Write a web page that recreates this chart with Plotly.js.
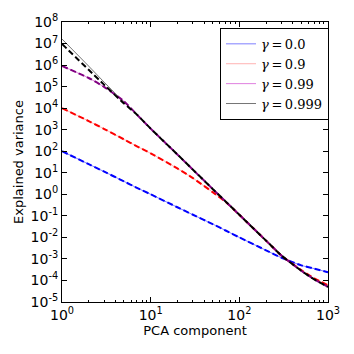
<!DOCTYPE html>
<html>
<head>
<meta charset="utf-8">
<script src="https://cdn.plot.ly/plotly-3.0.1.min.js"></script>
<style>html,body{margin:0;padding:0;background:#fff;}#chart{width:354px;height:354px;}</style>
</head>
<body>
<div id="chart"></div>
<script>
// PCA component index
const components = [1, 2, 3, 5, 7, 10, 20, 30, 50, 70, 100, 200, 300, 500, 700, 1000];
// Explained variance (log10 values converted below)
const logVar_g0_solid    = [2.0, 1.4, 1.05, 0.6, 0.3, 0.0, -0.6, -0.95, -1.38, -1.68, -2.0, -2.6, -2.95, -3.3, -3.45, -3.62];
const logVar_g0_dashed   = [2.0, 1.4, 1.05, 0.6, 0.3, 0.0, -0.6, -0.95, -1.38, -1.68, -2.0, -2.6, -2.95, -3.3, -3.45, -3.62];
const logVar_g09_solid   = [4.0, 3.4, 3.03, 2.55, 2.23, 1.9, 1.2, 0.75, 0.1, -0.35, -0.95, -2.15, -2.85, -3.52, -3.9, -4.22];
const logVar_g09_dashed  = [4.0, 3.4, 3.03, 2.55, 2.23, 1.9, 1.2, 0.75, 0.1, -0.35, -0.95, -2.15, -2.85, -3.52, -3.9, -4.22];
const logVar_g099_solid  = [5.96, 5.4, 4.98, 4.32, 3.7, 3.05, 1.85, 1.14, 0.25, -0.33, -0.95, -2.15, -2.85, -3.55, -3.95, -4.3];
const logVar_g099_dashed = [5.96, 5.4, 4.98, 4.32, 3.7, 3.05, 1.85, 1.14, 0.25, -0.33, -0.95, -2.15, -2.85, -3.55, -3.95, -4.3];
const logVar_g0999_solid = [7.21, 5.95, 5.2, 4.28, 3.71, 3.05, 1.85, 1.14, 0.25, -0.33, -0.95, -2.15, -2.85, -3.55, -3.95, -4.3];
const logVar_g0999_dashed= [6.98, 5.78, 5.08, 4.22, 3.7, 3.05, 1.85, 1.14, 0.25, -0.33, -0.95, -2.15, -2.85, -3.55, -3.95, -4.3];
const seriesNames = ["<i>γ</i>\u2009=\u20090.0", "<i>γ</i>\u2009=\u20090.9", "<i>γ</i>\u2009=\u20090.99", "<i>γ</i>\u2009=\u20090.999"];
// Tick labels
const xTickExp = [0, 1, 2, 3];
const yTickExp = [-5, -4, -3, -2, -1, 0, 1, 2, 3, 4, 5, 6, 7, 8];
const xMinorTicks = [2,3,4,5,6,7,8,9,20,30,40,50,60,70,80,90,200,300,400,500,600,700,800,900];

const toVal = a => a.map(v => Math.pow(10, v));
const solidColors = ["rgba(0,0,255,0.5)", "rgba(255,0,0,0.3)", "rgba(191,0,191,0.5)", "rgba(0,0,0,0.55)"];
const dashColors = ["#0000ff", "#ff0000", "#800080", "#000000"];
const solids = [logVar_g0_solid, logVar_g09_solid, logVar_g099_solid, logVar_g0999_solid];
const dashes = [logVar_g0_dashed, logVar_g09_dashed, logVar_g099_dashed, logVar_g0999_dashed];

const traces = [];
for (let i = 0; i < 4; i++) {
  traces.push({x: components, y: toVal(solids[i]), mode: 'lines', name: seriesNames[i],
    line: {color: solidColors[i], width: 1, shape: 'spline', smoothing: 0.6}, showlegend: true});
}
for (let i = 0; i < 4; i++) {
  traces.push({x: components, y: toVal(dashes[i]), mode: 'lines', name: seriesNames[i] + ' (dashed)',
    line: {color: dashColors[i], width: 2, dash: '6px,3px', shape: 'spline', smoothing: 0.6}, showlegend: false});
}

const tickFont = {family: 'DejaVu Sans', size: 14, color: '#000'};
const titleFont = {family: 'DejaVu Sans', size: 13, color: '#000'};
const layout = {
  width: 354, height: 354,
  margin: {l: 62, r: 26, t: 22, b: 52},
  paper_bgcolor: '#fff', plot_bgcolor: '#fff',
  font: tickFont,
  showlegend: true,
  legend: {x: 0.594, y: 0.979, xanchor: 'left', yanchor: 'top', bordercolor: '#000', borderwidth: 1,
    bgcolor: '#fff', font: {family: 'DejaVu Serif', size: 13, color: '#000'}, tracegroupgap: 0, itemwidth: 30},
  xaxis: {type: 'log', range: [0, 3], tickmode: 'array',
    tickvals: xTickExp.map(e => Math.pow(10, e)), ticktext: xTickExp.map(e => '10<sup>' + e + '</sup>'),
    showgrid: false, zeroline: false,
    showline: true, mirror: 'ticks', linecolor: '#000', linewidth: 1, ticks: 'inside', ticklen: 5, tickcolor: '#000',
    minor: {tickmode: 'array', tickvals: xMinorTicks, ticks: 'inside', ticklen: 2, tickcolor: '#000', showgrid: false},
    title: {text: 'PCA component', font: titleFont, standoff: 4}, tickfont: tickFont},
  yaxis: {type: 'log', range: [-5, 8], tickmode: 'array',
    tickvals: yTickExp.map(e => Math.pow(10, e)), ticktext: yTickExp.map(e => '10<sup>' + e + '</sup>'),
    showgrid: false, zeroline: false,
    showline: true, mirror: 'ticks', linecolor: '#000', linewidth: 1, ticks: 'inside', ticklen: 5, tickcolor: '#000',
    title: {text: 'Explained variance', font: titleFont, standoff: 4}, tickfont: tickFont}
};
Plotly.newPlot('chart', traces, layout, {displayModeBar: false, staticPlot: true});
</script>
</body>
</html>
